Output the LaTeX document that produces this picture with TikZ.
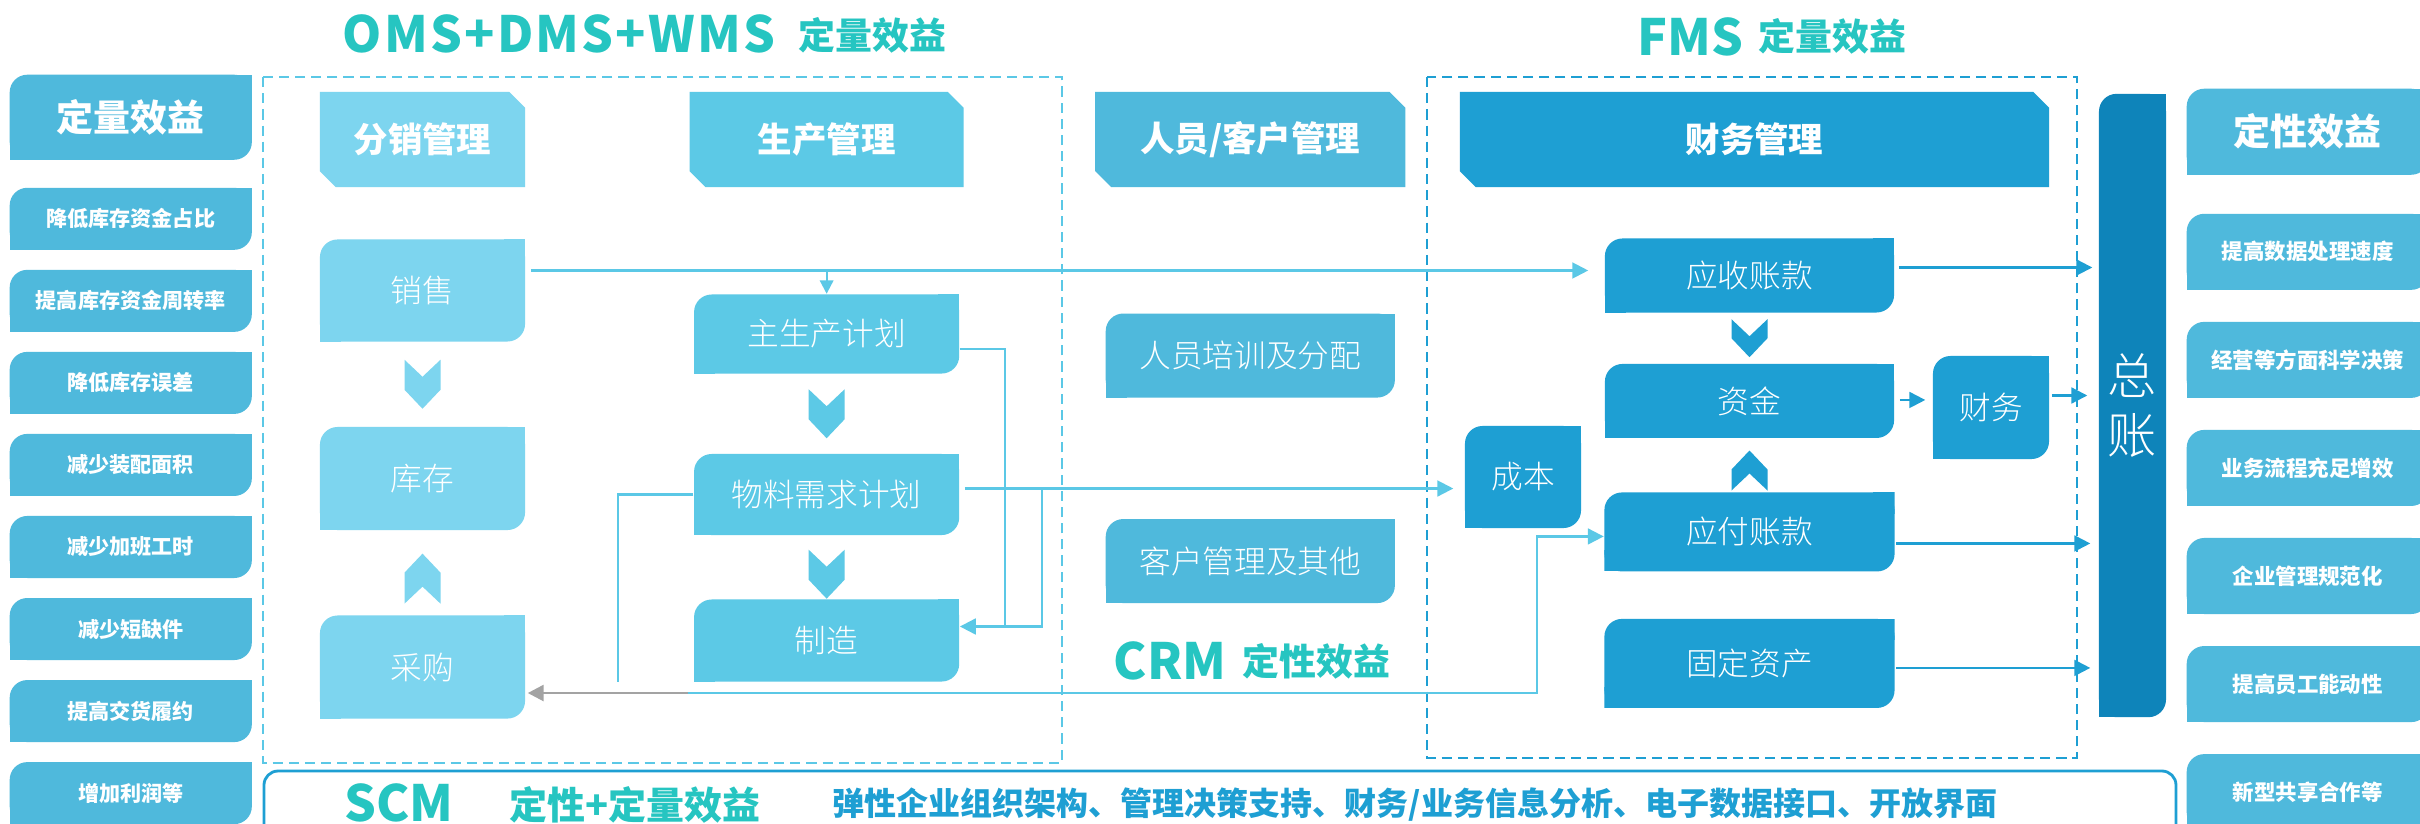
\documentclass[tikz,border=0pt]{standalone}
\usepackage{fontspec}
\setmainfont{Noto Sans CJK SC}
\IfFontExistsTF{Noto Sans CJK SC Light}{\newfontfamily\procfont{Noto Sans CJK SC Light}}{\newfontfamily\procfont{Noto Sans CJK SC}}
\usepackage{xcolor}
\usepackage{tikz}
\usetikzlibrary{shapes,arrows.meta,positioning,calc,matrix}

\definecolor{titleteal}{HTML}{26C5C1}
\definecolor{fxblue}{HTML}{7DD5EF}
\definecolor{scblue}{HTML}{5CC9E6}
\definecolor{ryblue}{HTML}{4FB9DC}
\definecolor{cwblue}{HTML}{1E9FD3}
\definecolor{zzblue}{HTML}{0E84BA}
\definecolor{lnkblue}{HTML}{5BC8E6}
\definecolor{lnkgray}{HTML}{A3A3A3}

\tikzset{
  leafbox/.style={inner sep=0pt, text=white, path picture={
      \fill[#1, rounded corners=5pt] (path picture bounding box.south west) rectangle (path picture bounding box.north east);
      \fill[#1] (path picture bounding box.north east) rectangle ++(-6pt,-6pt);
      \fill[#1] (path picture bounding box.south west) rectangle ++(6pt,6pt);}},
  tabbox/.style={inner sep=0pt, text=white, font=\bfseries\fontsize{9.8}{12}\selectfont, path picture={
      \fill[#1] ([xshift=4.5pt]path picture bounding box.south west) -- (path picture bounding box.south east)
        -- ([yshift=-4.5pt]path picture bounding box.north east) -- ([xshift=-4.5pt]path picture bounding box.north east)
        -- (path picture bounding box.north west) -- ([yshift=4.5pt]path picture bounding box.south west) -- cycle;}},
  procbox/.style={leafbox=#1, font=\procfont\fontsize{9}{11}\selectfont},
  bigtitle/.style={inner sep=0pt, anchor=base west, text=titleteal, font=\bfseries\fontsize{14.2}{16}\selectfont},
  smalltitle/.style={inner sep=0pt, anchor=base west, text=titleteal, font=\bfseries\fontsize{10.5}{12}\selectfont},
  dashframe/.style={line width=0.6pt, dash pattern=on 2.9pt off 1.7pt},
  flow/.style={draw=lnkblue, line width=0.6pt},
  cwflow/.style={draw=cwblue, line width=0.6pt},
  arr/.style={-{Triangle[length=4.5pt,width=4.5pt]}},
  pics/chevdown/.style n args={2}{code={
      \fill[#1] (-18,-#2/2) -- (0,-#2/2+17) -- (18,-#2/2) -- (18,#2/2-19) -- (0,#2/2) -- (-18,#2/2-19) -- cycle;}},
  pics/chevup/.style n args={2}{code={
      \fill[#1] (-18,#2/2) -- (0,#2/2-17) -- (18,#2/2) -- (18,-#2/2+19) -- (0,-#2/2) -- (-18,-#2/2+19) -- cycle;}},
}

\begin{document}
\begin{tikzpicture}[x=0.01cm, y=-0.01cm]
    \useasboundingbox (0,0) rectangle (2420,824);
    \fill[white] (0,0) rectangle (2420,824);

    \draw[dashframe, draw=lnkblue] (263,77) rectangle (1062,763);
    \draw[dashframe, draw=cwblue] (1427,77) rectangle (2077,758);
    \draw[draw=cwblue, line width=0.8pt, rounded corners=4pt] (264,771) rectangle (2176,880);

    \matrix (m) [matrix of nodes, anchor=north west, inner sep=0pt, row sep=0.2cm,
      nodes={leafbox=ryblue, minimum width=2.42cm, minimum height=0.62cm, font=\bfseries\fontsize{6}{7}\selectfont}] at (9,74) {
      |[minimum height=0.85cm, font=\bfseries\fontsize{10.5}{12}\selectfont]| 定量效益 \\[0.08cm]
      降低库存资金占比 \\
      提高库存资金周转率 \\
      降低库存误差 \\
      减少装配面积 \\
      减少加班工时 \\
      减少短缺件 \\
      提高交货履约 \\
      增加利润等 \\
    };

    \matrix (m2) [matrix of nodes, anchor=north west, inner sep=0pt, row sep=0.32cm,
      nodes={leafbox=ryblue, minimum width=2.42cm, minimum height=0.76cm, font=\bfseries\fontsize{6.1}{7}\selectfont}] at (2186,88) {
      |[minimum height=0.86cm, font=\bfseries\fontsize{10.5}{12}\selectfont]| 定性效益 \\[0.07cm]
      提高数据处理速度 \\
      经营等方面科学决策 \\
      业务流程充足增效 \\
      企业管理规范化 \\
      提高员工能动性 \\
      新型共享合作等 \\
    };

    \node[tabbox=fxblue, minimum width=2.05cm, minimum height=0.95cm] (fx) at (422.5,139.5) {分销管理};
    \node[tabbox=scblue, minimum width=2.74cm, minimum height=0.95cm, right=1.63cm of fx] (sc) {生产管理};
    \node[tabbox=ryblue, minimum width=3.10cm, minimum height=0.95cm, right=1.30cm of sc] (ry) {人员/客户管理};
    \node[tabbox=cwblue, minimum width=5.89cm, minimum height=0.95cm, right=0.53cm of ry] (cw) {财务管理};

    \node[procbox=fxblue, minimum width=2.05cm, minimum height=1.02cm, below=0.51cm of fx] (xs) {销售};
    \node[procbox=fxblue, minimum width=2.05cm, minimum height=1.03cm, below=0.84cm of xs] (kc) {库存};
    \node[procbox=fxblue, minimum width=2.05cm, minimum height=1.03cm, below=0.84cm of kc] (cg) {采购};

    \node[procbox=scblue, minimum width=2.65cm, minimum height=0.79cm, below=1.06cm of sc] (zs) {主生产计划};
    \node[procbox=scblue, minimum width=2.65cm, minimum height=0.81cm, below=0.79cm of zs] (wl) {物料需求计划};
    \node[procbox=scblue, minimum width=2.65cm, minimum height=0.82cm, below=0.63cm of wl] (zz) {制造};

    \node[procbox=ryblue, minimum width=2.89cm, minimum height=0.84cm, below=1.25cm of ry] (px) {人员培训及分配};
    \node[procbox=ryblue, minimum width=2.89cm, minimum height=0.84cm, below=1.20cm of px] (kh) {客户管理及其他};

    \node[procbox=cwblue, minimum width=2.89cm, minimum height=0.74cm, below=0.50cm of cw, xshift=-0.05cm] (ys) {应收账款};
    \node[procbox=cwblue, minimum width=2.89cm, minimum height=0.74cm, below=0.50cm of ys] (zj) {资金};
    \node[procbox=cwblue, minimum width=2.90cm, minimum height=0.79cm, below=0.53cm of zj] (yf) {应付账款};
    \node[procbox=cwblue, minimum width=2.90cm, minimum height=0.89cm, below=0.46cm of yf] (gd) {固定资产};
    \node[procbox=cwblue, minimum width=1.16cm, minimum height=1.03cm] (cwu) at (1991,407.5) {财务};
    \node[procbox=cwblue, minimum width=1.16cm, minimum height=1.02cm] (cb) at (1523,477) {成本};
    \node[leafbox=zzblue, minimum width=0.67cm, minimum height=6.23cm, align=center,
      font=\procfont\fontsize{14}{17}\selectfont] (zzh) at (2132.5,405.5) {总\\账};

    \pic at ($(xs.south)!.5!(kc.north)$) {chevdown={fxblue}{49}};
    \pic at ($(kc.south)!.57!(cg.north)$) {chevup={fxblue}{50}};
    \pic at ($(zs.south)!.5!(wl.north)$) {chevdown={scblue}{49}};
    \pic at ($(wl.south)!.61!(zz.north)$) {chevdown={scblue}{49}};
    \pic at ($(ys.south)!.5!(zj.north)$) {chevdown={cwblue}{38}};
    \pic at ($(zj.south)!.6!(yf.north)$) {chevup={cwblue}{40}};

    \node[bigtitle, font=\bfseries\fontsize{14.2}{16}\selectfont\addfontfeatures{LetterSpace=4.5}] (oms) at (342,52) {OMS+DMS+WMS};
    \node[smalltitle] (omsq) at (798,49) {定量效益};
    \node[bigtitle] (fms) at (1637,55) {FMS};
    \node[smalltitle] (fmsq) at (1758,51) {定量效益};
    \node[bigtitle] (crm) at (1113,679) {CRM};
    \node[smalltitle] (crmq) at (1242,675) {定性效益};
    \node[bigtitle] (scm) at (344,821) {SCM};
    \node[smalltitle, font=\bfseries\fontsize{10.8}{12}\selectfont] (scmq) at (509,819) {定性+定量效益};
    \node[smalltitle, text=cwblue, font=\bfseries\fontsize{9.1}{11}\selectfont] (scmt) at (832,815)
      {弹性企业组织架构、管理决策支持、财务/业务信息分析、电子数据接口、开放界面};

    \draw[flow, arr, shorten >=0.16cm] ($(xs.east)+(5,-20)$) coordinate (s1) -- (s1 -| ys.west);
    \draw[flow, -{Triangle[length=3.8pt,width=3.8pt]}] (s1 -| zs.north) -- (zs.north);
    \draw[flow, arr] ($(zs.east)+(0,15)$) -- ++(45,0) |- ($(zz.east)+(0,-14)$);
    \draw[flow, arr, shorten >=0.11cm] ($(wl.east)+(5,-6)$) coordinate (s2) -- (s2 -| cb.west);
    \draw[flow] ($(s2)+(77,0)$) |- ($(zz.east)+(45,-14)$);
    \draw[flow] (wl.west) -- ++(-75,0) -- ++(0,187);
    \draw[draw=lnkgray, line width=0.8pt, arr] ($(cg.east)+(162,26)$) coordinate (s3) -- ($(cg.east)+(2,26)$);
    \draw[flow, arr] (s3) -- ++(849,0) |- ($(yf.west)+(0,4.5)$);

    \draw[cwflow, arr, shorten >=0.06cm] ($(ys.east)+(4,-8)$) coordinate (s4) -- (s4 -| zzh.west);
    \draw[cwflow, arr, shorten >=0.07cm] ($(zj.east)+(5,-1)$) coordinate (s5) -- (s5 -| cwu.west);
    \draw[cwflow, arr, shorten >=0.11cm] ($(cwu.east)+(2,-12)$) coordinate (s6) -- (s6 -| zzh.west);
    \draw[cwflow, arr, shorten >=0.08cm] ($(yf.east)+(1,11.5)$) coordinate (s7) -- (s7 -| zzh.west);
    \draw[cwflow, arr, shorten >=0.08cm] ($(gd.east)+(1,4.5)$) coordinate (s8) -- (s8 -| zzh.west);

  \end{tikzpicture}
\end{document}
